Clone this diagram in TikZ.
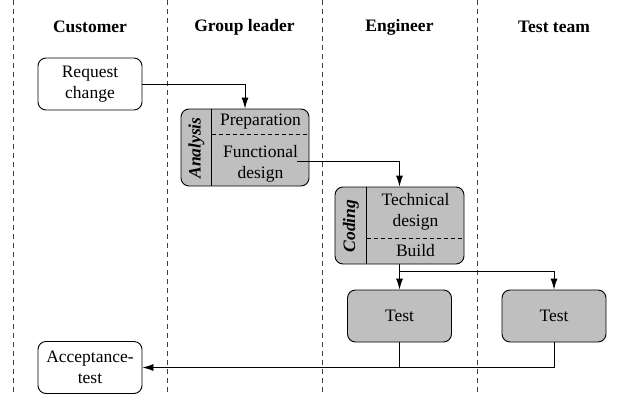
\documentclass[tikz,border=0pt]{standalone}
\usepackage{fontspec}
\setmainfont{Liberation Serif}
\usetikzlibrary{arrows.meta}
\tikzset{
  lane/.style={draw=black!75, line width=0.9pt, dash pattern=on 5pt off 4pt},
  lanehead/.style={font=\fontsize{17.5}{21}\selectfont\bfseries},
  actor/.style={rectangle, rounded corners=8pt, draw=black, line width=0.9pt, fill=white,
    align=center, minimum width=104pt, minimum height=52pt, inner sep=0pt},
  task/.style={actor, fill=black!25},
  phase/.style={font=\fontsize{17.5}{21}\selectfont\bfseries\itshape, rotate=90},
  part/.style={align=center},
  sub/.style={draw=black, line width=0.9pt, dash pattern=on 4pt off 3pt},
  flow/.style={-{Latex[length=11pt,width=7pt]}, draw=black, line width=0.9pt},
}

\begin{document}
\begin{tikzpicture}[x=1pt, y=-1pt, font=\fontsize{17.5}{21}\selectfont]
    \useasboundingbox (0,0) rectangle (621,394);
    % swimlanes
    \foreach \x in {13,167,322,477}
      \draw[lane] (\x,0) -- (\x,394);
    \node[lanehead] (hcust) at (90,27) {Customer};
    \node[lanehead] (hlead) at (244.5,27) {Group leader};
    \node[lanehead] (heng) at (399.5,27) {Engineer};
    \node[lanehead] (htest) at (554,27) {Test team};

    \node[actor] (req) at (90,84) {Request\\change};
    \node[actor] (acc) at (90,367.5) {Acceptance-\\test};

    % analysis phase
    \node[task, minimum width=128pt, minimum height=77pt] (ana) at (245,147.5) {};
    \draw ([xshift=31pt]ana.north west) -- ([xshift=31pt]ana.south west);
    \draw[sub] ([xshift=31pt,yshift=-26pt]ana.north west) -- ([yshift=-26pt]ana.north east);
    \node[phase] (anal) at (196.5,148) {Analysis};
    \node[part] (prep) at (260.5,122) {Preparation};
    \node[part] (fdes) at (260.5,164) {Functional\\design};

    % coding phase
    \node[task, minimum width=129pt, minimum height=77pt] (cod) at (399.5,225.5) {};
    \draw ([xshift=32pt]cod.north west) -- ([xshift=32pt]cod.south west);
    \draw[sub] ([xshift=32pt,yshift=26pt]cod.south west) -- ([yshift=26pt]cod.south east);
    \node[phase] (codl) at (351,226) {Coding};
    \node[part] (tdes) at (415.5,212) {Technical\\design};
    \node[part] (bld) at (415.5,251) {Build};

    \node[task] (teng) at (399.5,316) {Test};
    \node[task] (tteam) at (554,316) {Test};

    \coordinate (fout) at (297,161);
    \coordinate (split) at (399.5,271);
    \coordinate (join) at (399.5,367.5);

    \draw[flow] (req.east) -| (ana.north);
    \draw[flow] (fout) -| (cod.north);
    \draw[flow] (cod.south) -- (teng.north);
    \draw[flow] (split) -| (tteam.north);
    \draw (teng.south) -- (join);
    \draw (tteam.south) |- (join);
    \draw[flow] (join) -- (acc.east);
  \end{tikzpicture}
\end{document}
